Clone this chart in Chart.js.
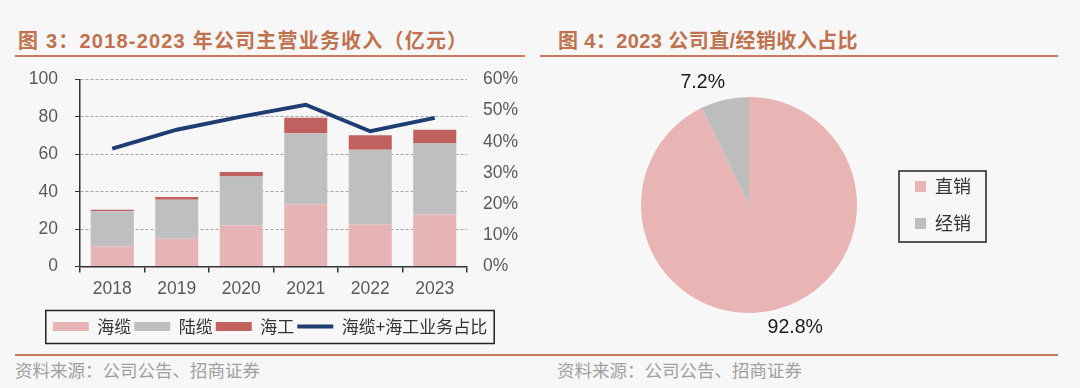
<!DOCTYPE html>
<html>
<head>
<meta charset="utf-8">
<script src="https://cdn.jsdelivr.net/npm/chart.js@4.4.1/dist/chart.umd.min.js"></script>
<style>
body{margin:0;background:#f7f7f7;width:1080px;height:388px;position:relative;overflow:hidden;font-family:"Liberation Sans","Noto Sans CJK SC",sans-serif}
.title{position:absolute;top:29px;height:24px;line-height:24px;font-size:20px;font-weight:bold;color:#c0714e;white-space:nowrap}
.rule{position:absolute;height:2px;background:#c87a5c}
.source{position:absolute;top:359px;line-height:22px;font-size:17.5px;color:#a0a0a0;font-family:"Noto Sans CJK SC",sans-serif;white-space:nowrap}
.box{position:absolute;top:62px;width:540px;height:290px}
</style>
</head>
<body>
<div class="title" style="left:18px;letter-spacing:1.2px">图 3：2018-2023 年公司主营业务收入（亿元）</div>
<div class="title" style="left:558px;letter-spacing:0.4px">图 4：2023 公司直/经销收入占比</div>
<div class="rule" style="left:15px;width:510px;top:55px"></div>
<div class="rule" style="left:540px;width:518px;top:55px"></div>

<div class="box" style="left:0;top:52px;height:300px"><canvas id="revenueChart"></canvas></div>
<div class="box" style="left:540px"><canvas id="channelChart"></canvas></div>

<div class="rule" style="left:15px;width:1043px;top:354px"></div>
<div class="source" style="left:15px">资料来源：公司公告、招商证券</div>
<div class="source" style="left:557px">资料来源：公司公告、招商证券</div>

<script>
// 亿元
const years = ['2018', '2019', '2020', '2021', '2022', '2023']
const seaCable = [10.7, 14.8, 21.9, 33.2, 22.5, 27.8]
const landCable = [18.9, 20.9, 26.2, 38.1, 39.9, 38.2]
const marine = [0.7, 1.4, 2.5, 8.2, 7.8, 7.1]
// %
const seaShare = [37.8, 43.9, 48.1, 51.9, 43.4, 47.7]

const channels = ['直销', '经销']
const channelShare = [92.8, 7.2]

const tickFont = {family: '"Liberation Sans"', size: 17.5}
const tickColor = '#595959'

// frame around the legend items, like the boxed legends in the report
function legendFrame(l, r, t, b) {
  return {
    id: 'legendFrame',
    afterDraw(chart) {
      let boxes = chart.legend.legendHitBoxes
      let x1 = Math.min(...boxes.map(h => h.left))
      let x2 = Math.max(...boxes.map(h => h.left + h.width))
      let y1 = Math.min(...boxes.map(h => h.top))
      let y2 = Math.max(...boxes.map(h => h.top + h.height))
      let ctx = chart.ctx
      ctx.save()
      ctx.strokeStyle = '#222'
      ctx.lineWidth = 1.5
      ctx.strokeRect(x1 - l, y1 - t, x2 - x1 + l + r, y2 - y1 + t + b)
      ctx.restore()
    }
  }
}

const pieLabels = {
  id: 'pieLabels',
  afterDatasetsDraw(chart) {
    let ctx = chart.ctx
    let meta = chart.getDatasetMeta(0)
    ctx.save()
    ctx.font = '19.5px "Liberation Sans"'
    ctx.fillStyle = '#1a1a1a'
    ctx.textAlign = 'center'
    ctx.textBaseline = 'middle'
    meta.data.forEach((arc, i) => {
      let mid = (arc.startAngle + arc.endAngle) / 2
      let dx = Math.cos(mid), dy = Math.sin(mid)
      let r = arc.outerRadius + 18
      ctx.fillText(channelShare[i].toFixed(1) + '%', arc.x + dx * r + Math.sign(dx) * 18, arc.y + dy * r)
    })
    ctx.restore()
  }
}

new Chart('revenueChart', {
  type: 'bar',
  data: {
    labels: years,
    datasets: [
      {label: '海缆', data: seaCable, backgroundColor: '#e6b4b4', stack: 'rev', order: 1, pointStyle: 'rect'},
      {label: '陆缆', data: landCable, backgroundColor: '#bfbfbf', stack: 'rev', order: 1, pointStyle: 'rect'},
      {label: '海工', data: marine, backgroundColor: '#c0605f', stack: 'rev', order: 1, pointStyle: 'rect'},
      {type: 'line', label: '海缆+海工业务占比', data: seaShare, yAxisID: 'y1', order: 0,
        borderColor: '#1f3d73', backgroundColor: '#1f3d73', borderWidth: 4, pointRadius: 0, pointStyle: 'line'}
    ]
  },
  options: {
    responsive: true,
    maintainAspectRatio: false,
    animation: false,
    categoryPercentage: 1,
    barPercentage: 0.667,
    layout: {padding: {left: 0, right: 0, top: 0, bottom: 7}},
    plugins: {
      tooltip: {enabled: false},
      legend: {
        position: 'bottom',
        labels: {
          usePointStyle: true,
          pointStyleWidth: 36,
          boxHeight: 9,
          padding: 3,
          color: '#333',
          font: {family: '"Noto Sans CJK SC"', size: 17},
          sort: (a, b) => a.datasetIndex - b.datasetIndex,
          generateLabels(chart) {
            let items = Chart.defaults.plugins.legend.labels.generateLabels(chart)
            items.forEach(it => { it.pointStyle = chart.data.datasets[it.datasetIndex].pointStyle })
            return items
          }
        }
      }
    },
    scales: {
      x: {
        stacked: true,
        grid: {offset: true, drawOnChartArea: false, tickLength: 6, color: '#333', lineWidth: 1.5},
        border: {color: '#333', width: 1.5},
        ticks: {padding: 6, color: tickColor, font: tickFont},
        afterFit(s) { s.height = 48.5 }
      },
      y: {
        stacked: true,
        position: 'left',
        min: 0,
        max: 100,
        ticks: {stepSize: 20, padding: 17, color: tickColor, font: tickFont},
        grid: {color: c => c.tick.value === 0 ? 'rgba(0,0,0,0)' : '#a6a6a6', tickColor: '#333', tickLength: 5, lineWidth: 1},
        border: {color: '#333', width: 1.5, dash: [3, 2]},
        afterFit(s) { s.width = 80 }
      },
      y1: {
        position: 'right',
        min: 0,
        max: 60,
        ticks: {stepSize: 10, padding: 16, color: tickColor, font: tickFont, callback: v => v + '%'},
        grid: {display: false, drawTicks: false},
        border: {display: false},
        afterFit(s) { s.width = 73 }
      }
    }
  },
  plugins: [legendFrame(7, 7, 7.5, 8.5)]
})

new Chart('channelChart', {
  type: 'pie',
  data: {
    labels: channels,
    datasets: [{data: channelShare, backgroundColor: ['#e8b4b4', '#bdbdbd'], borderWidth: 0}]
  },
  options: {
    responsive: true,
    maintainAspectRatio: false,
    animation: false,
    layout: {padding: {left: 62, right: 99, top: 35, bottom: 39}},
    plugins: {
      tooltip: {enabled: false},
      legend: {
        position: 'right',
        labels: {boxWidth: 11, boxHeight: 11, padding: 19, color: '#333', font: {family: '"Noto Sans CJK SC"', size: 18}}
      }
    }
  },
  plugins: [pieLabels, legendFrame(16, 15, 6.5, 9.5)]
})
</script>
</body>
</html>
